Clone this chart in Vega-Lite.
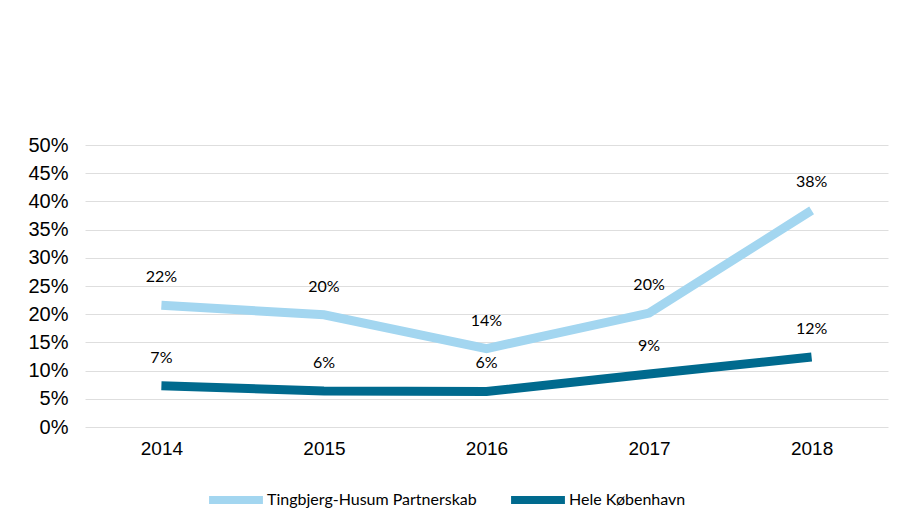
{
  "$schema": "https://vega.github.io/schema/vega-lite/v6.json",
  "autosize": "none",
  "width": 803,
  "height": 282,
  "padding": {"left": 85, "top": 145, "right": 19, "bottom": 103},
  "background": "white",
  "config": {
    "view": {"stroke": null},
    "font": "Liberation Sans"
  },
  "data": {
    "values": [
      {"year": "2014", "series": "Tingbjerg-Husum Partnerskab", "value": 0.216},
      {"year": "2015", "series": "Tingbjerg-Husum Partnerskab", "value": 0.199},
      {"year": "2016", "series": "Tingbjerg-Husum Partnerskab", "value": 0.139},
      {"year": "2017", "series": "Tingbjerg-Husum Partnerskab", "value": 0.202},
      {"year": "2018", "series": "Tingbjerg-Husum Partnerskab", "value": 0.384},
      {"year": "2014", "series": "Hele København", "value": 0.073},
      {"year": "2015", "series": "Hele København", "value": 0.064},
      {"year": "2016", "series": "Hele København", "value": 0.063},
      {"year": "2017", "series": "Hele København", "value": 0.094},
      {"year": "2018", "series": "Hele København", "value": 0.124}
    ]
  },
  "encoding": {
    "x": {
      "field": "year", "type": "ordinal",
      "scale": {"type": "point", "padding": 0.47},
      "axis": {
        "title": null, "labelAngle": 0, "labelFontSize": 19, "labelColor": "#000000",
        "labelPadding": 12, "ticks": false, "domain": false, "grid": false,
        "labelFont": "Liberation Sans"
      }
    },
    "y": {
      "field": "value", "type": "quantitative",
      "scale": {"domain": [0, 0.5], "nice": false},
      "axis": {
        "title": null, "values": [0, 0.05, 0.1, 0.15, 0.2, 0.25, 0.3, 0.35, 0.4, 0.45, 0.5],
        "format": ".0%", "labelFontSize": 20, "labelColor": "#000000",
        "labelPadding": 17, "ticks": false, "domain": false,
        "grid": true, "gridColor": "#DEDEDE", "gridWidth": 1,
        "labelFont": "Liberation Sans"
      }
    },
    "color": {
      "field": "series", "type": "nominal",
      "scale": {
        "domain": ["Tingbjerg-Husum Partnerskab", "Hele København"],
        "range": ["#A3D6F0", "#006A8E"]
      },
      "legend": {
        "title": null, "orient": "none", "direction": "horizontal",
        "legendX": 120, "legendY": 324,
        "symbolType": "stroke", "symbolSize": 2900, "symbolStrokeWidth": 8,
        "labelFont": "Lato", "labelFontSize": 16, "labelColor": "#000000",
        "labelLimit": 400, "labelOffset": 0, "columnPadding": 18
      }
    }
  },
  "layer": [
    {
      "mark": {"type": "line", "strokeWidth": 9, "strokeCap": "butt", "strokeJoin": "miter"}
    },
    {
      "mark": {"type": "text", "dy": -28, "font": "Lato", "fontSize": 16, "color": "#000000"},
      "encoding": {
        "text": {"field": "value", "type": "quantitative", "format": ".0%"},
        "color": {"value": "#000000"}
      }
    }
  ]
}
